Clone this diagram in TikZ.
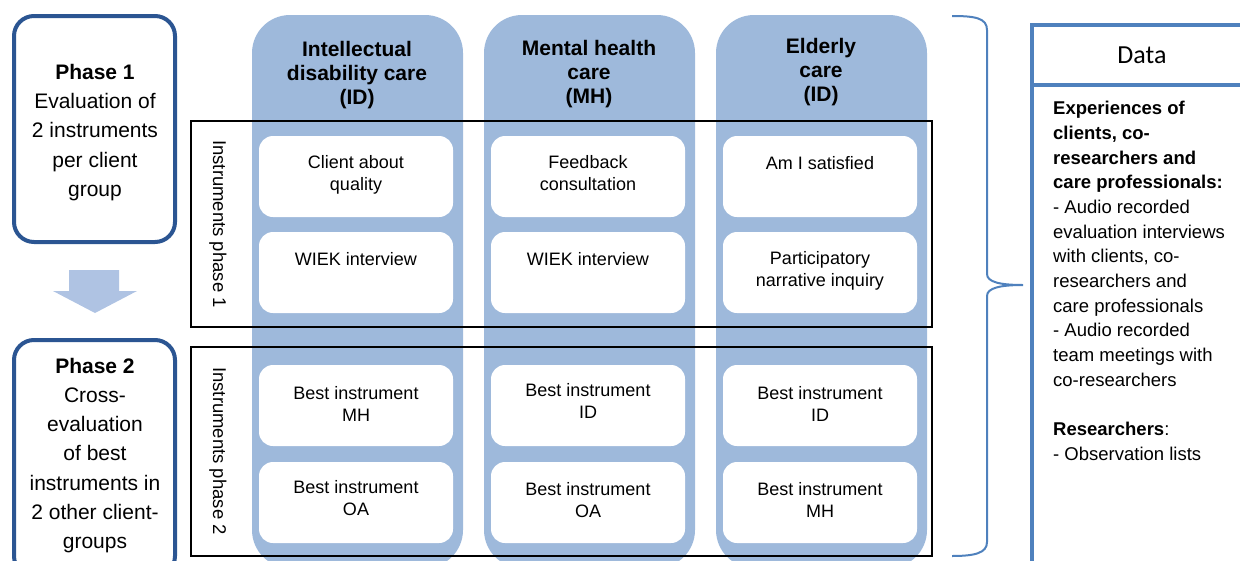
\documentclass[tikz,border=0pt]{standalone}
\usepackage{fontspec}
\setmainfont{Liberation Sans}
\newfontfamily\calfont{Carlito}
\definecolor{colblue}{HTML}{9EB9DB}
\definecolor{arrowblue}{HTML}{AFC3E3}
\definecolor{darkblue}{HTML}{2B5592}
\definecolor{midblue}{HTML}{4F81BD}
\begin{document}
\begin{tikzpicture}[x=1pt,y=-1pt,
  column/.style={fill=colblue, draw=none, rounded corners=38pt, minimum width=211pt, minimum height=553pt, inner sep=0pt},
  inbox/.style={fill=white, draw=none, rounded corners=14pt, minimum width=194pt, minimum height=81pt, inner sep=0pt},
  itext/.style={anchor=north, inner sep=0pt, align=center, font=\fontsize{18}{22}\selectfont},
  htext/.style={anchor=north, inner sep=0pt, align=center, font=\fontsize{21}{24}\selectfont\bfseries},
  instbox/.style={draw=black, line width=1.6pt, minimum width=741pt, inner sep=0pt},
  vlabel/.style={rotate=-90, inner sep=0pt, font=\fontsize{18.5}{22}\selectfont},
  phasebox/.style={draw=darkblue, line width=4pt, rounded corners=20pt, fill=white, minimum width=161pt, inner sep=0pt},
  ptext/.style={align=center, inner sep=0pt, font=\fontsize{21}{29.3}\selectfont},
  databox/.style={draw=midblue, line width=4pt, minimum width=220pt, inner sep=0pt},
]
\useasboundingbox (0,0) rectangle (1240,560);
\clip (0,0) rectangle (1240,560);

% columns
\node[column] (c1) at (357.5,291.5) {};
\node[column] (c2) at (589.5,291.5) {};
\node[column] (c3) at (821.5,291.5) {};

% column headers
\node[htext] (h1) at (357,41) {Intellectual\\disability care\\(ID)};
\node[htext] (h2) at (589,40) {Mental health\\care\\(MH)};
\node[htext] (h3) at (821,38) {Elderly\\care\\(ID)};

% instrument group frames
\node[instbox, minimum height=206pt] (ip1) at (561.5,224) {};
\node[instbox, minimum height=209pt] (ip2) at (561.5,451.5) {};
\node[vlabel] (vl1) at (218,224) {Instruments phase 1};
\node[vlabel] (vl2) at (218,451) {Instruments phase 2};

% inner boxes
\node[inbox] (b11) at (356,176.5) {};
\node[inbox] (b12) at (356,272.5) {};
\node[inbox] (b13) at (356,405.5) {};
\node[inbox] (b14) at (356,502.5) {};
\node[inbox] (b21) at (588,176.5) {};
\node[inbox] (b22) at (588,272.5) {};
\node[inbox] (b23) at (588,405.5) {};
\node[inbox] (b24) at (588,502.5) {};
\node[inbox] (b31) at (820,176.5) {};
\node[inbox] (b32) at (820,272.5) {};
\node[inbox] (b33) at (820,405.5) {};
\node[inbox] (b34) at (820,502.5) {};

\node[itext] (t11) at ([yshift=-19pt]b11.north) {Client about\\quality};
\node[itext] (t12) at ([yshift=-20pt]b12.north) {WIEK interview};
\node[itext] (t13) at ([yshift=-21pt]b13.north) {Best instrument\\MH};
\node[itext] (t14) at ([yshift=-18pt]b14.north) {Best instrument\\OA};
\node[itext] (t21) at ([yshift=-19pt]b21.north) {Feedback\\consultation};
\node[itext] (t22) at ([yshift=-20pt]b22.north) {WIEK interview};
\node[itext] (t23) at ([yshift=-18pt]b23.north) {Best instrument\\ID};
\node[itext] (t24) at ([yshift=-20pt]b24.north) {Best instrument\\OA};
\node[itext] (t31) at ([yshift=-20pt]b31.north) {Am I satisfied};
\node[itext] (t32) at ([yshift=-19pt]b32.north) {Participatory\\narrative inquiry};
\node[itext] (t33) at ([yshift=-21pt]b33.north) {Best instrument\\ID};
\node[itext] (t34) at ([yshift=-20pt]b34.north) {Best instrument\\MH};

% phase boxes
\node[phasebox, minimum height=226pt] (p1) at (94.5,129) {};
\node[ptext] (p1t) at (95,132.5) {\textbf{Phase 1}\\Evaluation of\\2 instruments\\per client\\group};
\node[phasebox, minimum height=236pt] (p2) at (94.5,458) {};
\node[ptext] (p2t) at (95,455.5) {\textbf{Phase 2}\\Cross-\\evaluation\\of best\\instruments in\\2 other client-\\groups};

% arrow between phases
\fill[arrowblue] (69,270) -- (119,270) -- (119,291) -- (137,291) -- (95,313) -- (53,291) -- (69,291) -- cycle;

% brace
\draw[midblue, line width=2pt] (952,16) .. controls (975,16) and (987,18) .. (987,30) -- (987,274)
  .. controls (987,282) and (1000,285) .. (1023,285)
  .. controls (1000,285) and (987,288) .. (987,296) -- (987,542)
  .. controls (987,553) and (975,556) .. (952,556);

% data panel
\node[databox, minimum height=60pt] (dh) at (1142,55) {};
\node[databox, minimum height=540pt] (db) at (1142,355) {};
\node[inner sep=0pt, font=\calfont\fontsize{26}{30}\selectfont] (dt) at (1142,55) {Data};
\node[anchor=north west, inner sep=0pt, align=left, font=\fontsize{18.5}{24.7}\selectfont] (dbt) at (1053,101)
{\textbf{Experiences of}\\\textbf{clients, co-}\\\textbf{researchers and}\\\textbf{care professionals:}\\- Audio recorded\\evaluation interviews\\with clients, co-\\researchers and\\care professionals\\- Audio recorded\\team meetings with\\co-researchers\\[24.7pt]\textbf{Researchers}:\\- Observation lists};
\end{tikzpicture}
\end{document}
